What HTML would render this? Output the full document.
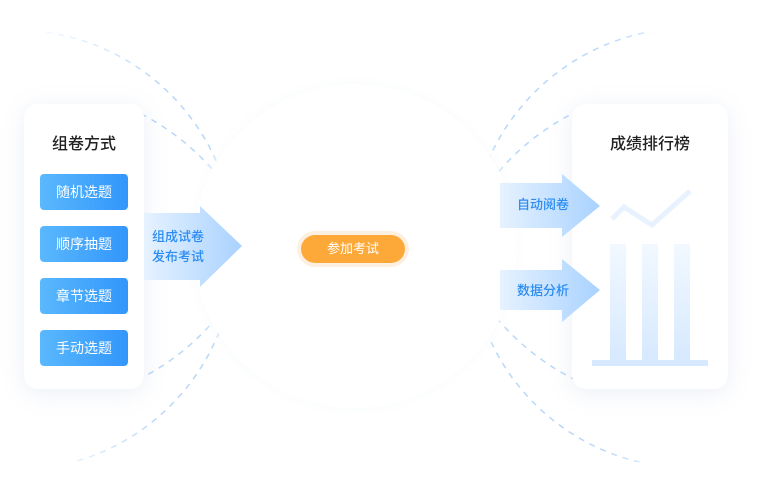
<!DOCTYPE html>
<html><head><meta charset="utf-8"><style>
body{margin:0;width:768px;height:496px;background:#fff;position:relative;overflow:hidden;font-family:"Liberation Sans","Noto Sans CJK SC",sans-serif}
.abs{position:absolute}
.card{position:absolute;background:#fff;border-radius:14px;box-shadow:0 4px 24px rgba(120,150,200,.15)}
.btn{position:absolute;left:40px;width:88px;height:36px;border-radius:4px;background:linear-gradient(90deg,#5ab8fd,#3296fb);color:#fff;font-size:14px;line-height:36px;text-align:center}
.title{position:absolute;font-size:16px;color:#222;font-weight:500;text-align:center}
.lbl{position:absolute;font-size:13px;color:#2b8cf2;font-weight:500;line-height:20px}
</style></head><body>
<svg class="abs" style="left:0;top:0" width="768" height="496">
<defs>
<linearGradient id="fl" gradientUnits="userSpaceOnUse" x1="20" x2="160" y1="0" y2="0"><stop offset="0" stop-color="#c2ddfa" stop-opacity="0"/><stop offset="1" stop-color="#b8d8fa"/></linearGradient>
<linearGradient id="fr" gradientUnits="userSpaceOnUse" x1="740" x2="600" y1="0" y2="0"><stop offset="0" stop-color="#c2ddfa" stop-opacity="0"/><stop offset="1" stop-color="#b8d8fa"/></linearGradient>
<radialGradient id="cg"><stop offset=".85" stop-color="#eef3fb"/><stop offset="1" stop-color="#fff" stop-opacity="0"/></radialGradient>
<clipPath id="co"><rect x="0" y="32" width="768" height="430"/></clipPath>
<clipPath id="ct"><rect x="140" y="100" width="440" height="146"/></clipPath>
<clipPath id="cb"><rect x="140" y="246" width="440" height="150"/></clipPath>
</defs>
<g fill="none" stroke-width="1.5" stroke-dasharray="6 6">
<circle cx="15" cy="250" r="220" stroke="url(#fl)" clip-path="url(#co)"/>
<circle cx="690" cy="248" r="220" stroke="url(#fr)" clip-path="url(#co)"/>
<g stroke="#b8d8fa">
<circle cx="30" cy="330" r="243" clip-path="url(#ct)"/><circle cx="30" cy="162" r="243" clip-path="url(#cb)"/>
<circle cx="683" cy="330" r="243" clip-path="url(#ct)"/><circle cx="683" cy="162" r="243" clip-path="url(#cb)"/>
</g>
</g>
<circle cx="355" cy="246" r="174" fill="url(#cg)"/>
<circle cx="355" cy="246" r="162" fill="#fff"/>
</svg>
<div class="card" style="left:24px;top:104px;width:120px;height:285px"></div>
<div class="title" style="left:24px;top:130px;width:120px">组卷方式</div>
<div class="btn" style="top:174px">随机选题</div>
<div class="btn" style="top:226px">顺序抽题</div>
<div class="btn" style="top:278px">章节选题</div>
<div class="btn" style="top:330px">手动选题</div>
<div class="card" style="left:572px;top:104px;width:156px;height:285px"></div>
<div class="title" style="left:572px;top:130px;width:156px">成绩排行榜</div>
<svg class="abs" style="left:0;top:0" width="768" height="496">
<defs>
<linearGradient id="ag" x1="0" x2="1"><stop offset="0" stop-color="#e6f2ff"/><stop offset="1" stop-color="#a9d2ff"/></linearGradient>
<linearGradient id="bg" x1="0" y1="0" x2="0" y2="1"><stop offset="0" stop-color="#f2f8ff"/><stop offset="1" stop-color="#d6e9ff"/></linearGradient>
</defs>
<polyline points="612,219 624,207 652,225 690,191" fill="none" stroke="#e8f2fe" stroke-width="5"/>
<rect x="610" y="244" width="16" height="118" fill="url(#bg)"/>
<rect x="642" y="244" width="16" height="118" fill="url(#bg)"/>
<rect x="674" y="244" width="16" height="118" fill="url(#bg)"/>
<rect x="592" y="360" width="116" height="6" fill="#d6e9ff"/>
<path d="M144 213 H200 V206 L242 246 L200 287 V280 H144Z" fill="url(#ag)"/>
<path d="M500 183 H562 V174 L600 206 L562 237 V228 H500Z" fill="url(#ag)"/>
<path d="M500 270 H562 V259 L600 290 L562 322 V310 H500Z" fill="url(#ag)"/>
</svg>
<div class="lbl" style="left:152px;top:227px">组成试卷<br>发布考试</div>
<div class="lbl" style="left:517px;top:195px">自动阅卷</div>
<div class="lbl" style="left:517px;top:281px">数据分析</div>
<div class="abs" style="left:297px;top:231px;width:112px;height:36px;border-radius:18px;background:#fdf0e0"></div>
<div class="abs" style="left:301px;top:235px;width:104px;height:28px;border-radius:14px;background:#fda93a;color:#fff;font-size:13px;line-height:28px;text-align:center">参加考试</div>
</body></html>
